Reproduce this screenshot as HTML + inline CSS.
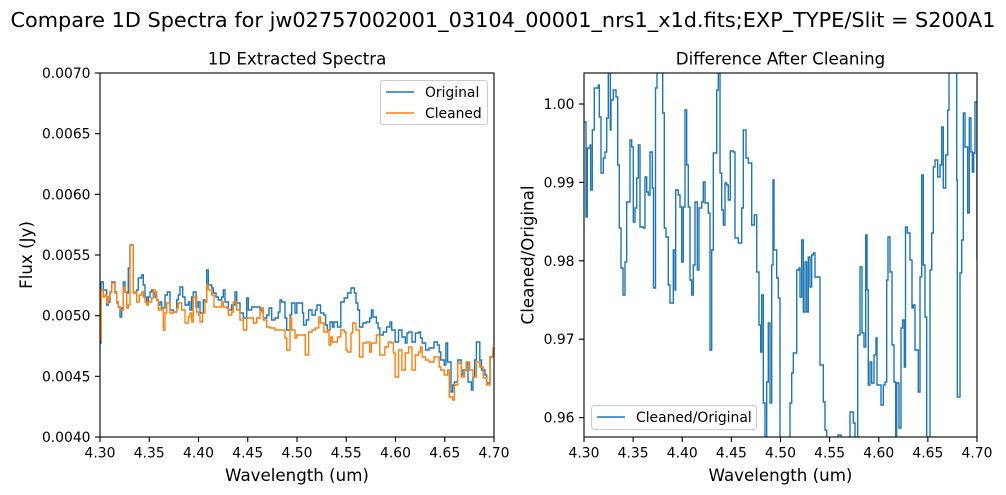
<!DOCTYPE html>
<html>
<head>
<meta charset="utf-8">
<style>
html,body{margin:0;padding:0;background:#fff;}
svg{display:block;}
text{font-family:"DejaVu Sans","Liberation Sans",sans-serif;fill:#000;}
</style>
</head>
<body>
<svg width="1006" height="495" viewBox="0 0 1006 495" xmlns="http://www.w3.org/2000/svg">
<defs>
<clipPath id="cl"><rect x="100" y="73" width="394" height="364"/></clipPath>
<clipPath id="cr"><rect x="584" y="73" width="393" height="364"/></clipPath>
</defs>
<rect width="1006" height="495" fill="#fff"/>

<!-- Suptitle -->
<text x="503" y="27" font-size="20.83" text-anchor="middle">Compare 1D Spectra for jw02757002001_03104_00001_nrs1_x1d.fits;EXP_TYPE/Slit = S200A1</text>

<!-- ================= LEFT AXES ================= -->
<text x="297" y="64.7" font-size="16.67" text-anchor="middle">1D Extracted Spectra</text>

<g clip-path="url(#cl)" fill="none" stroke-width="1.4" stroke-linejoin="miter">
<path stroke="#1f77b4" d="M100,343 H101 V282 H103.3 V290 H106.7 V305 H108.3 V302 H110 V292 H111.7 V282 H115 V292 H116.7 V302 H118.3 V307 H120 V317 H121.7 V308 H123.3 V282 H125 V292 H126.7 V293 H128.3 V268 H130 V245 H133.3 V293 H136.7 V290 H138.3 V278 H141.7 V275 H143.3 V285 H145 V297 H146.7 V302 H148.3 V297 H150 V292 H151.7 V290 H153.3 V293 H155 V297 H156.7 V300 H158.3 V305 H160 V302 H161.7 V308 H165 V295 H167.3 V292 H170 V310 H173.3 V312 H176.7 V300 H178.3 V295 H180 V287 H182.7 V297 H185 V305 H188.3 V302 H190 V310 H191.7 V297 H193.3 V292 H196 V307 H198.3 V302 H200 V313 H203.3 V300 H205 V302 H206.7 V270 H208.3 V285 H211.7 V288 H213.3 V293 H216 V297 H218.3 V300 H221.7 V297 H223.3 V290 H225 V302 H228.3 V310 H231.7 V305 H235 V292 H236.7 V303 H240 V313 H243.3 V318 H246.7 V298 H248.3 V310 H251.7 V307 H256.7 V307 H260 V310 H263.3 V318 H266.7 V315 H269 V308 H271.7 V320 H275 V318 H278.3 V312 H280 V300 H281.7 V302 H285 V318 H286.7 V330 H290 V315 H291.7 V303 H295 V313 H296.8 V303 H300.2 V303 H302.5 V313 H303.6 V325 H306.3 V320 H308.6 V310 H312 V315 H315.4 V310 H317 V305 H320.5 V313 H323.9 V315 H325.6 V325 H327.3 V330 H330 V322 H332.4 V327 H334 V322 H337.5 V327 H340.8 V302 H344.2 V298 H347.6 V293 H351 V288 H354.4 V293 H356 V303 H357.8 V310 H359.5 V327 H362.9 V323 H366.3 V322 H369.7 V318 H371.4 V310 H373 V317 H376.4 V323 H378.1 V328 H379.8 V335 H383.2 V332 H386.6 V327 H390 V322 H391.7 V330 H395.1 V342 H398.5 V330 H401.9 V337 H405.3 V343 H407 V333 H408.6 V332 H412 V342 H415.4 V333 H418.8 V332 H420.5 V338 H422.2 V343 H425.6 V350 H429 V348 H434 V342 H437.5 V345 H439.2 V352 H440.8 V360 H444.2 V365 H445.9 V343 H447.6 V362 H451 V392 H452.7 V385 H454.4 V382 H457.8 V360 H461.2 V375 H462.9 V370 H466.3 V363 H468 V382 H471.4 V390 H473 V377 H474.7 V360 H476.4 V342 H479.8 V360 H481.5 V370 H484.9 V375 H486.6 V383 H490 V357 H493 V352 H495"/>
<path stroke="#ff7f0e" d="M100,340 H101 V290 H103.3 V297 H105 V295 H106.7 V303 H108.3 V297 H110 V292 H111.7 V283 H115 V293 H116.7 V303 H118.3 V307 H120 V310 H123.3 V287 H125 V292 H126.7 V308 H128.3 V305 H130 V245 H133.3 V293 H135 V292 H136.7 V302 H139.3 V295 H141.7 V292 H143.3 V297 H145 V302 H146.7 V305 H148.3 V302 H151.7 V298 H153.3 V290 H155 V292 H156.7 V300 H158.3 V310 H160 V308 H161.7 V310 H163.3 V330 H165 V313 H166.7 V303 H170 V313 H173.3 V312 H176.7 V308 H178.3 V303 H181.7 V310 H185 V323 H188.3 V317 H190 V313 H191.7 V322 H193.3 V297 H196.7 V312 H198.3 V315 H200 V322 H202.7 V313 H205 V302 H206.7 V285 H208.3 V290 H211.7 V295 H214 V307 H218.3 V307 H221.7 V302 H223.3 V307 H226.7 V308 H228.3 V315 H231.7 V312 H233.3 V302 H236.7 V310 H240 V320 H243.3 V330 H246.7 V318 H250 V318 H253.3 V323 H256.7 V318 H260 V312 H261.7 V308 H263.3 V320 H266.7 V327 H270 V328 H275 V330 H280 V330 H283.3 V330 H285 V338 H286.7 V350 H290 V318 H291.7 V330 H295 V338 H296.8 V335 H301.9 V335 H305.3 V355 H308.6 V332 H312 V330 H315.4 V328 H318.8 V317 H320.5 V323 H323.9 V332 H327.3 V330 H329 V345 H330.7 V337 H332.4 V342 H337.5 V337 H340.8 V330 H344.2 V332 H346 V350 H347.6 V352 H351 V333 H352.7 V323 H356 V330 H359.5 V357 H362.9 V343 H366.3 V342 H369.7 V352 H371.4 V343 H376.4 V335 H379.8 V355 H384.9 V347 H388.3 V342 H391.7 V343 H393.4 V353 H395.1 V377 H398.5 V350 H401.9 V370 H405.3 V353 H408.6 V347 H412 V370 H415.4 V355 H418.8 V352 H420.5 V347 H422.2 V357 H425.6 V360 H429 V362 H434 V357 H439.2 V367 H440.8 V370 H444.2 V375 H447.6 V370 H449.3 V397 H452.7 V400 H454.4 V385 H457.8 V363 H461.2 V377 H464.6 V370 H466.3 V362 H469.7 V370 H473 V377 H476.4 V362 H479.8 V367 H483.2 V378 H486.6 V385 H490 V357 H493 V348 H495"/>
</g>

<!-- left spines -->
<rect x="100" y="73" width="394" height="364" fill="none" stroke="#000" stroke-width="1.1"/>

<!-- left ticks -->
<g stroke="#000" stroke-width="1.1">
<line x1="100" y1="437" x2="100" y2="442"/>
<line x1="149.25" y1="437" x2="149.25" y2="442"/>
<line x1="198.5" y1="437" x2="198.5" y2="442"/>
<line x1="247.75" y1="437" x2="247.75" y2="442"/>
<line x1="297" y1="437" x2="297" y2="442"/>
<line x1="346.25" y1="437" x2="346.25" y2="442"/>
<line x1="395.5" y1="437" x2="395.5" y2="442"/>
<line x1="444.75" y1="437" x2="444.75" y2="442"/>
<line x1="494" y1="437" x2="494" y2="442"/>
<line x1="95" y1="437" x2="100" y2="437"/>
<line x1="95" y1="376.33" x2="100" y2="376.33"/>
<line x1="95" y1="315.67" x2="100" y2="315.67"/>
<line x1="95" y1="255" x2="100" y2="255"/>
<line x1="95" y1="194.33" x2="100" y2="194.33"/>
<line x1="95" y1="133.67" x2="100" y2="133.67"/>
<line x1="95" y1="73" x2="100" y2="73"/>
</g>
<g font-size="13.89" text-anchor="middle">
<text x="100" y="457.5">4.30</text>
<text x="149.25" y="457.5">4.35</text>
<text x="198.5" y="457.5">4.40</text>
<text x="247.75" y="457.5">4.45</text>
<text x="297" y="457.5">4.50</text>
<text x="346.25" y="457.5">4.55</text>
<text x="395.5" y="457.5">4.60</text>
<text x="444.75" y="457.5">4.65</text>
<text x="494" y="457.5">4.70</text>
</g>
<g font-size="13.89" text-anchor="end">
<text x="90.5" y="442">0.0040</text>
<text x="90.5" y="381.3">0.0045</text>
<text x="90.5" y="320.7">0.0050</text>
<text x="90.5" y="260">0.0055</text>
<text x="90.5" y="199.3">0.0060</text>
<text x="90.5" y="138.7">0.0065</text>
<text x="90.5" y="78">0.0070</text>
</g>
<text x="297" y="481" font-size="16.67" text-anchor="middle">Wavelength (um)</text>
<text transform="translate(32,255) rotate(-90)" font-size="16.67" text-anchor="middle">Flux (Jy)</text>

<!-- left legend -->
<rect x="380.5" y="80.5" width="107" height="44" rx="3" ry="3" fill="#fff" fill-opacity="0.8" stroke="#cccccc" stroke-width="1"/>
<line x1="386" y1="92" x2="414" y2="92" stroke="#1f77b4" stroke-width="1.4"/>
<line x1="386" y1="113" x2="414" y2="113" stroke="#ff7f0e" stroke-width="1.4"/>
<text x="425" y="97" font-size="13.89">Original</text>
<text x="425" y="118" font-size="13.89">Cleaned</text>

<!-- ================= RIGHT AXES ================= -->
<text x="780.5" y="64.7" font-size="16.67" text-anchor="middle">Difference After Cleaning</text>

<g clip-path="url(#cr)" fill="none" stroke-width="1.4" stroke-linejoin="miter">
<path stroke="#1f77b4" d="M584,122 H586 V217 H587.3 V148 H590 V145 H590.7 V190 H592.3 V130 H594.3 V88 H598.3 V85 H599.3 V117 H601 V173 H603.3 V158 H605 V152 H606.7 V118 H608.3 V60 H610.3 V130 H611 V100 H613.3 V90 H616 V97 H617.7 V165 H619.3 V228 H621 V268 H623 V295 H625 V262 H626.7 V202 H630 V140 H631.7 V147 H633.3 V222 H635 V208 H636.7 V178 H638.3 V145 H640 V227 H643.3 V228 H645 V177 H646.7 V192 H648.3 V195 H650 V152 H652.3 V188 H653.5 V288 H655.5 V88 H657 V60 H661 V60 H662.7 V113 H664.3 V228 H666 V237 H668.3 V285 H670 V303 H673.3 V250 H675 V290 H675.7 V190 H678.3 V195 H680 V207 H681.7 V262 H683.3 V207 H685 V110 H686.7 V165 H688.3 V207 H690 V280 H691.7 V295 H693.3 V265 H695 V202 H697.3 V270 H699 V208 H701.7 V202 H703.3 V182 H705 V203 H708.3 V213 H710 V350 H711.7 V250 H713.3 V153 H716.7 V90 H718.3 V60 H720 V173 H721.7 V210 H723.3 V225 H725 V183 H726.7 V185 H728.3 V200 H730.3 V151 H733.3 V152 H735 V238 H738.3 V243 H741.7 V208 H743.3 V130 H746 V158 H748.3 V163 H751.7 V225 H754.3 V215 H756.7 V272 H759 V325 H760.7 V352 H761.7 V295 H763.3 V403 H765 V450 H766.7 V382 H768.3 V323 H770 V403 H771.7 V265 H773 V180 H774 V250 H776.7 V278 H778.3 V298 H780 V450 H790 V403 H791.7 V373 H793.3 V353 H796.7 V270 H799 V268 H800 V297 H801.7 V240 H803.3 V312 H805 V262 H806.7 V312 H808.3 V257 H810 V287 H811.7 V255 H813.3 V253 H815 V277 H818.3 V277 H820 V365 H823.3 V402 H825 V430 H826.7 V450 H838 V435 H841 V450 H850 V412 H853.3 V423 H855 V450 H857.7 V335 H860 V267 H862 V333 H864 V347 H865.7 V235 H867 V290 H868.3 V385 H870 V362 H871.7 V383 H874 V355 H876 V338 H877 V385 H880 V385 H881 V405 H883.3 V385 H885 V382 H886.7 V280 H888 V237 H890 V272 H892 V345 H894 V382 H895.7 V437 H896.7 V383 H899 V428 H901 V328 H902.7 V320 H904.3 V367 H905.5 V227 H907.3 V233 H910 V260 H912 V308 H913.3 V305 H915 V350 H918.3 V392 H920 V277 H921.7 V175 H923.3 V265 H925 V317 H926.7 V450 H930 V270 H931.7 V233 H933.3 V167 H935 V160 H937.7 V177 H940 V165 H941.7 V127 H943.3 V188 H945.7 V155 H947.7 V110 H949 V60 H956.7 V180 H957.3 V397 H960 V273 H961.7 V240 H963.3 V113 H965 V147 H967.7 V213 H969.3 V118 H971 V152 H972.3 V172 H973.7 V153 H975 V102 H977 V258 H978"/>
</g>

<rect x="584" y="73" width="393" height="364" fill="none" stroke="#000" stroke-width="1.1"/>

<g stroke="#000" stroke-width="1.1">
<line x1="584" y1="437" x2="584" y2="442"/>
<line x1="633.125" y1="437" x2="633.125" y2="442"/>
<line x1="682.25" y1="437" x2="682.25" y2="442"/>
<line x1="731.375" y1="437" x2="731.375" y2="442"/>
<line x1="780.5" y1="437" x2="780.5" y2="442"/>
<line x1="829.625" y1="437" x2="829.625" y2="442"/>
<line x1="878.75" y1="437" x2="878.75" y2="442"/>
<line x1="927.875" y1="437" x2="927.875" y2="442"/>
<line x1="977" y1="437" x2="977" y2="442"/>
<line x1="579" y1="104" x2="584" y2="104"/>
<line x1="579" y1="182.4" x2="584" y2="182.4"/>
<line x1="579" y1="260.8" x2="584" y2="260.8"/>
<line x1="579" y1="339.2" x2="584" y2="339.2"/>
<line x1="579" y1="417.6" x2="584" y2="417.6"/>
</g>
<g font-size="13.89" text-anchor="middle">
<text x="584" y="457.5">4.30</text>
<text x="633.125" y="457.5">4.35</text>
<text x="682.25" y="457.5">4.40</text>
<text x="731.375" y="457.5">4.45</text>
<text x="780.5" y="457.5">4.50</text>
<text x="829.625" y="457.5">4.55</text>
<text x="878.75" y="457.5">4.60</text>
<text x="927.875" y="457.5">4.65</text>
<text x="977" y="457.5">4.70</text>
</g>
<g font-size="13.89" text-anchor="end">
<text x="574.5" y="109">1.00</text>
<text x="574.5" y="187.4">0.99</text>
<text x="574.5" y="265.8">0.98</text>
<text x="574.5" y="344.2">0.97</text>
<text x="574.5" y="422.6">0.96</text>
</g>
<text x="780.5" y="481" font-size="16.67" text-anchor="middle">Wavelength (um)</text>
<text transform="translate(533.5,255) rotate(-90)" font-size="16.67" text-anchor="middle">Cleaned/Original</text>

<!-- right legend -->
<rect x="591.5" y="405.5" width="165" height="24" rx="3" ry="3" fill="#fff" fill-opacity="0.8" stroke="#cccccc" stroke-width="1"/>
<line x1="597" y1="417" x2="625" y2="417" stroke="#1f77b4" stroke-width="1.4"/>
<text x="636" y="422" font-size="13.89">Cleaned/Original</text>
</svg>
</body>
</html>
